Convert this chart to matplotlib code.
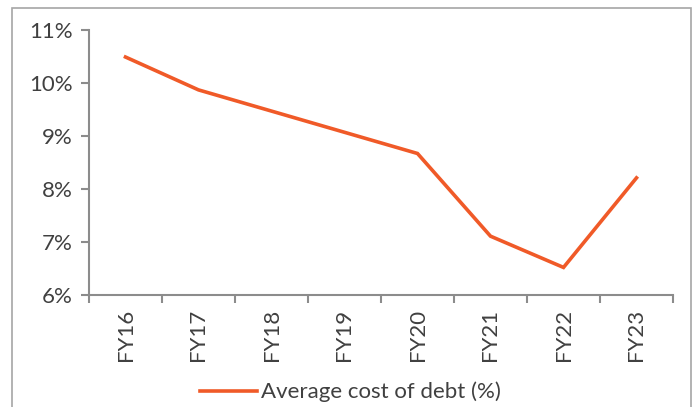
import numpy as np
import matplotlib.pyplot as plt
from matplotlib.patches import Rectangle
from matplotlib.ticker import FuncFormatter

years = ['FY16', 'FY17', 'FY18', 'FY19', 'FY20', 'FY21', 'FY22', 'FY23']
cost_of_debt = [10.49, 9.87, 9.47, 9.07, 8.67, 7.11, 6.52, 8.21]

plt.rcParams['font.family'] = ['Lato', 'DejaVu Sans']
txt = '#404040'
axcol = '#8c8c8c'
orange = '#f05a28'

fig = plt.figure(figsize=(6.96, 4.07), dpi=100)
ax = fig.add_axes([89/696, 1 - 295/407, 584/696, 265/407])

x = np.arange(len(years))
ax.plot(x, cost_of_debt, color=orange, lw=2.6, solid_joinstyle='miter',
        label='Average cost of debt (%)')

ax.set_xlim(-0.5, len(years) - 0.5)
ax.set_ylim(6, 11)
ax.set_yticks(np.arange(6, 12, 1))
ax.yaxis.set_major_formatter(FuncFormatter(lambda v, p: f'{v:.0f}%'))
ax.set_xticks(x)
ax.set_xticklabels(years, rotation=90)
ax.set_xticks(np.arange(-0.5, len(years)), minor=True)
ax.tick_params(axis='x', which='major', length=0, pad=10, labelsize=16, labelcolor=txt)
ax.tick_params(axis='x', which='minor', length=6, width=1.5, color=axcol)
ax.tick_params(axis='y', length=6, width=1.5, color=axcol, labelsize=16,
               labelcolor=txt, pad=6)

for s in ['top', 'right']:
    ax.spines[s].set_visible(False)
for s in ['left', 'bottom']:
    ax.spines[s].set_color(axcol)
    ax.spines[s].set_linewidth(1.5)

leg = fig.legend(loc='center', bbox_to_anchor=(350/696, 1 - 392/407), frameon=False,
                 fontsize=16, handlelength=2.6, handletextpad=0.15, labelcolor=txt)

# outer chart frame
fig.patches.append(Rectangle((12/696, -0.05), 679/696, 1 - 8/407 + 0.05,
                             transform=fig.transFigure, fill=False,
                             edgecolor='#a6a6a6', lw=1.2))

fig.savefig('out.png', dpi=100)
